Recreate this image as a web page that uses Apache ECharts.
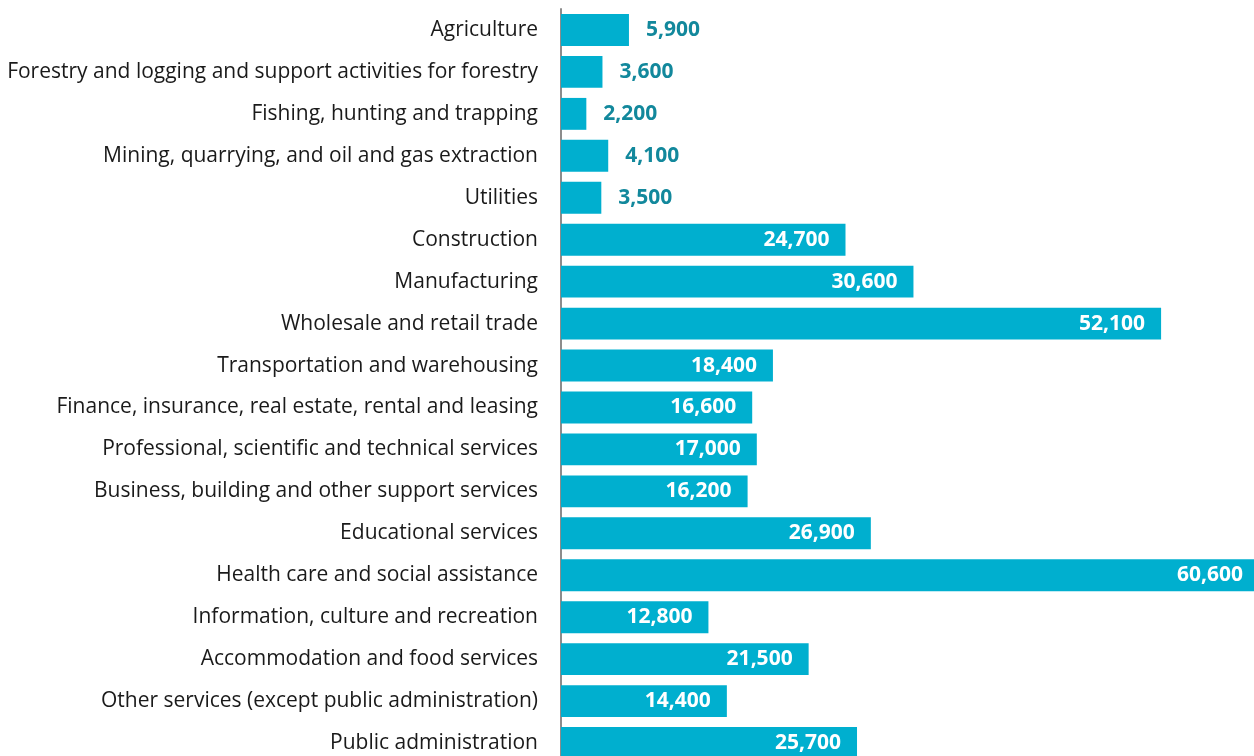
<!DOCTYPE html>
<html>
<head>
<meta charset="utf-8">
<script src="https://cdn.jsdelivr.net/npm/echarts@6/dist/echarts.min.js"></script>
<style>
  html, body { margin: 0; padding: 0; background: #fff; }
  #chart { width: 1254px; height: 756px; }
</style>
</head>
<body>
<div id="chart"></div>
<script>
// industries, top to bottom
var categories = [
  'Agriculture',
  'Forestry and logging and support activities for forestry',
  'Fishing, hunting and trapping',
  'Mining, quarrying, and oil and gas extraction',
  'Utilities',
  'Construction',
  'Manufacturing',
  'Wholesale and retail trade',
  'Transportation and warehousing',
  'Finance, insurance, real estate, rental and leasing',
  'Professional, scientific and technical services',
  'Business, building and other support services',
  'Educational services',
  'Health care and social assistance',
  'Information, culture and recreation',
  'Accommodation and food services',
  'Other services (except public administration)',
  'Public administration'
];
var values = [5900, 3600, 2200, 4100, 3500, 24700, 30600, 52100, 18400, 16600,
  17000, 16200, 26900, 60600, 12800, 21500, 14400, 25700];

// small bars get their label outside
var insideMin = 10000;

var chart = echarts.init(document.getElementById('chart'));

var data = values.map(function (v) {
  var inside = v >= insideMin;
  return {
    value: v,
    label: {
      position: inside ? 'insideRight' : 'right',
      distance: inside ? 16 : 17,
      color: inside ? '#ffffff' : '#12889c'
    }
  };
});

var option = {
  animation: false,
  grid: {
    left: 561, width: 698, top: 9, height: 755,
    containLabel: false,
    outerBoundsMode: 'none'
  },
  xAxis: {
    type: 'value',
    min: 0,
    max: 60600,
    show: false
  },
  yAxis: {
    type: 'category',
    inverse: true,
    data: categories,
    axisLine: { show: true, lineStyle: { color: '#8c8c8c', width: 2 } },
    axisTick: { show: false },
    axisLabel: {
      margin: 23,
      fontFamily: 'Open Sans',
      fontSize: 21,
      color: '#1a1a1a'
    }
  },
  series: [{
    type: 'bar',
    data: data,
    barCategoryGap: '24%',
    itemStyle: { color: '#00afcf' },
    label: {
      show: true,
      fontFamily: 'Open Sans',
      fontWeight: 'bold',
      fontSize: 21,
      formatter: function (p) {
        return p.value.toLocaleString('en-US');
      }
    }
  }]
};

chart.setOption(option);
</script>
</body>
</html>
